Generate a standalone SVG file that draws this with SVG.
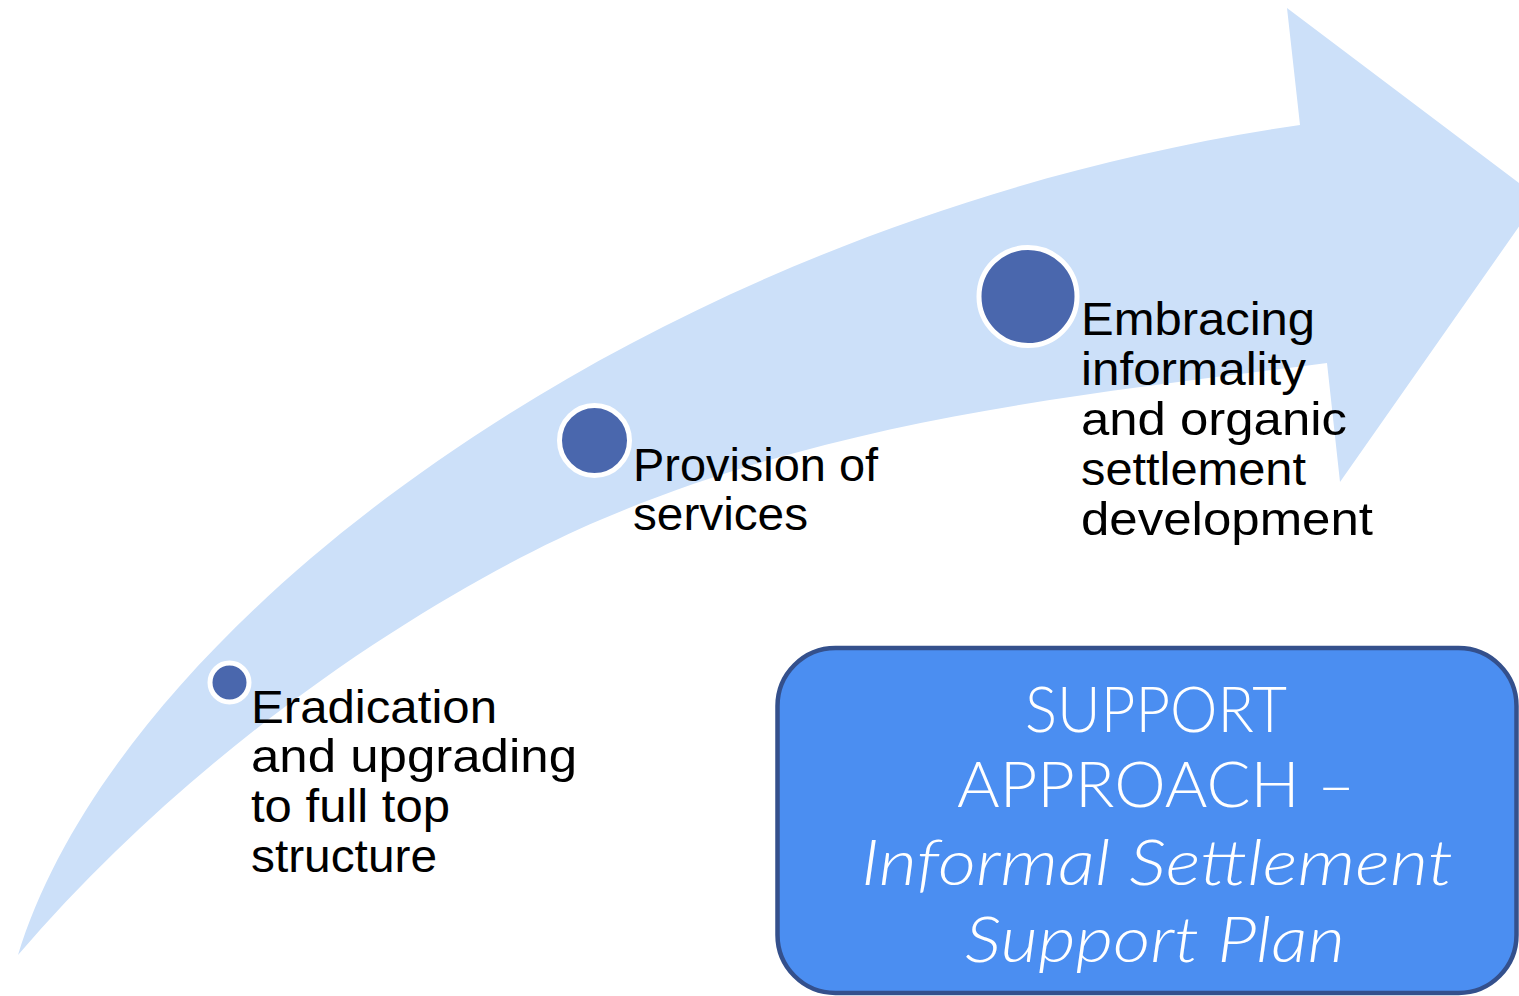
<svg xmlns="http://www.w3.org/2000/svg" width="1519" height="996" viewBox="0 0 1519 996">
<defs>
<style>
.lbl{font-family:"Liberation Sans","DejaVu Sans",sans-serif;font-size:46px;fill:#000;}
.dot{fill:#4A67AD;stroke:#FFFFFF;stroke-width:5;}
.box{fill:#4B8EF1;stroke:#34508C;stroke-width:4.5;}
.btx{font-family:Lato,"Liberation Sans",sans-serif;font-weight:300;font-size:63px;fill:#FFFFFF;text-anchor:middle;}
.it{font-style:italic;}
</style>
</defs>
<rect width="1519" height="996" fill="#FFFFFF"/>
<g id="connectors">
<path id="arrow" fill="#CCE0F9" d="M18,955 C120,620 650,220 1300,125 L1287,8 L1539,198 L1340,482 L1327,363 C1087,394 840,417.5 600,520 C470,575 220,720 18,955 Z"/>
</g>
<g id="node-eradication">
<circle class="dot" cx="229.5" cy="682.5" r="19.5"/>
<text class="lbl"><tspan x="251" y="723" textLength="246" lengthAdjust="spacingAndGlyphs">Eradication</tspan><tspan x="251" y="772" textLength="326" lengthAdjust="spacingAndGlyphs">and upgrading</tspan><tspan x="251" y="822" textLength="199" lengthAdjust="spacingAndGlyphs">to full top</tspan><tspan x="251" y="872" textLength="186" lengthAdjust="spacingAndGlyphs">structure</tspan></text>
</g>
<g id="node-provision">
<circle class="dot" cx="594.5" cy="440.5" r="35"/>
<text class="lbl"><tspan x="633" y="481" textLength="245" lengthAdjust="spacingAndGlyphs">Provision of</tspan><tspan x="633" y="530" textLength="175" lengthAdjust="spacingAndGlyphs">services</tspan></text>
</g>
<g id="node-embracing">
<circle class="dot" cx="1028" cy="296.5" r="49"/>
<text class="lbl"><tspan x="1081" y="335" textLength="234" lengthAdjust="spacingAndGlyphs">Embracing</tspan><tspan x="1081" y="385" textLength="225" lengthAdjust="spacingAndGlyphs">informality</tspan><tspan x="1081" y="435" textLength="266" lengthAdjust="spacingAndGlyphs">and organic</tspan><tspan x="1081" y="485" textLength="225" lengthAdjust="spacingAndGlyphs">settlement</tspan><tspan x="1081" y="535" textLength="292" lengthAdjust="spacingAndGlyphs">development</tspan></text>
</g>
<g id="node-support">
<rect class="box" x="777.5" y="648" width="739" height="345" rx="58" ry="58"/>
<text class="btx"><tspan x="1156" y="732" textLength="262" lengthAdjust="spacingAndGlyphs">SUPPORT</tspan><tspan x="1156" y="807" textLength="398" lengthAdjust="spacingAndGlyphs">APPROACH –</tspan><tspan class="it" x="1157" y="885" textLength="592" lengthAdjust="spacingAndGlyphs">Informal Settlement</tspan><tspan class="it" x="1155" y="962" textLength="380" lengthAdjust="spacingAndGlyphs">Support Plan</tspan></text>
</g>
</svg>
